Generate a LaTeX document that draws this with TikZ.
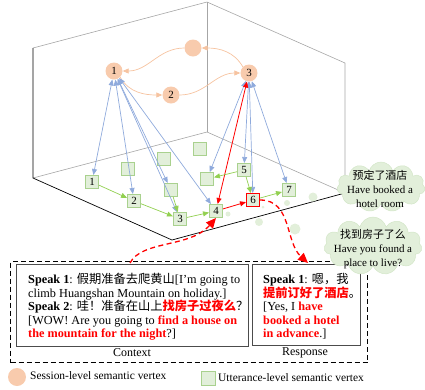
\documentclass[tikz,border=0pt]{standalone}
\usepackage{fontspec}
\setmainfont{Liberation Serif}
\newfontfamily\cjk{Noto Sans CJK SC}
\usetikzlibrary{arrows.meta,shapes.symbols}
\definecolor{sess}{HTML}{F8CBAD}
\definecolor{sessline}{HTML}{F6C3A0}
\definecolor{uttfill}{HTML}{E2EFDA}
\definecolor{uttdraw}{HTML}{A9D18E}
\definecolor{grarrow}{HTML}{92D050}
\definecolor{blarrow}{HTML}{8FAADC}
\definecolor{boxgray}{HTML}{A6A6A6}
\definecolor{cloudfill}{HTML}{E2EFDA}
\definecolor{clouddraw}{HTML}{D3E6C8}
\definecolor{myred}{HTML}{FF0000}
\newcommand{\redb}[1]{\textcolor{myred}{\bfseries #1}}
\begin{document}
\begin{tikzpicture}[x=1bp,y=1bp,
  sessnode/.style={circle,fill=sess,minimum size=17bp,inner sep=0pt,font=\fontsize{11}{12}\selectfont},
  uttnode/.style={rectangle,fill=uttfill,draw=uttdraw,line width=1bp,minimum size=13bp,inner sep=0pt,font=\fontsize{11}{12}\selectfont},
  sessarrow/.style={draw=sessline,line width=0.7bp,-{Triangle[width=5bp,length=6bp]}},
  bluearrow/.style={draw=blarrow,line width=0.7bp,{Triangle[width=5bp,length=6bp]}-{Triangle[width=5bp,length=6bp]}},
  greenarrow/.style={draw=grarrow,line width=0.7bp,-{Triangle[width=5bp,length=6bp]}},
  redarrow/.style={draw=myred,line width=0.8bp,-{Triangle[width=5bp,length=6bp]}},
  reddash/.style={draw=myred,line width=1.3bp,dash pattern=on 5bp off 3.5bp,-{Triangle[width=9bp,length=10bp]}},
  textline/.style={anchor=base west,inner sep=0pt,font=\fontsize{12.3}{13.5}\selectfont},
  cloudtext/.style={align=center,inner sep=0pt,font=\fontsize{11}{14}\selectfont},
  cloudshape/.style={cloud,cloud puffs=11,aspect=1.8,fill=cloudfill,draw=clouddraw,line width=0.5bp,inner sep=0pt},
  dot/.style={fill=cloudfill}
]
\useasboundingbox (0,0) rectangle (425,-390);

% 3D box
\draw[boxgray,line width=0.6bp] (33,-48) -- (207,-2) -- (345,-63) -- (345,-193);
\draw[boxgray,line width=0.6bp] (207,-2) -- (207,-132);
\draw[boxgray,line width=0.6bp] (33,-178) -- (207,-132) -- (345,-193);
\draw[black,line width=0.7bp] (33,-48) -- (33,-178) -- (172,-240) -- (345,-193);

% decorative dots
\fill[dot] (228,-214) circle (2.5);
\fill[dot] (259,-222) circle (4);
\fill[dot] (263,-207) circle (1.5);
\fill[dot] (287,-203) circle (3);
\fill[dot] (295,-229) circle (5.5);
\fill[dot] (313,-197) circle (4.5);

% session vertices
\node[sessnode] (s1) at (114,-71) {1};
\node[sessnode] (s2) at (171,-95) {2};
\node[sessnode] (s3) at (249,-73) {3};
\node[sessnode] (s0) at (193,-48) {};

\draw[sessarrow] (s0.west) to[out=180,in=0] (s1.east);
\draw[sessarrow] (s1.south east) to[out=-60,in=180] (s2.west);
\draw[sessarrow] (s2.east) to[out=0,in=180] (s3.west);
\draw[sessarrow] (s3.north west) to[out=120,in=0] (s0.east);

% utterance vertices
\node[uttnode] (ua) at (128,-169) {};
\node[uttnode] (ub) at (164,-159) {};
\node[uttnode] (uc) at (200,-149) {};
\node[uttnode] (ud) at (171,-190) {};
\node[uttnode] (ue) at (207,-179) {};
\node[uttnode] (u1) at (92,-182) {1};
\node[uttnode] (u2) at (134,-201) {2};
\node[uttnode] (u3) at (180,-219) {3};
\node[uttnode] (u4) at (216,-211) {4};
\node[uttnode] (u5) at (244,-170) {5};
\node[uttnode,draw=myred] (u6) at (253,-200) {6};
\node[uttnode] (u7) at (289,-190) {7};

% blue links
\foreach \t in {u1,u2,u3,ud,u4} \draw[bluearrow] (s1) -- (\t);
\foreach \t in {ue,u5,u6,u7} \draw[bluearrow] (s3) -- (\t);
\draw[draw=myred,line width=0.8bp,{Triangle[width=5bp,length=6bp]}-{Triangle[width=5bp,length=6bp]}] (s3) -- (u4);

% green links
\draw[greenarrow] (u1) -- (u2);
\draw[greenarrow] (u2) -- (u3);
\draw[greenarrow] (ud) -- (u3);
\draw[greenarrow] (u3) -- (u4);
\draw[greenarrow] (u5) -- (ue);
\draw[greenarrow] (u5) -- (u6);
\draw[greenarrow] (u6) -- (u7);
\draw[redarrow] (u4) -- (u6);

% dashed frame and boxes
\node[draw=black,line width=1.2bp,dash pattern=on 5bp off 3bp,minimum width=357bp,minimum height=101bp,inner sep=0pt,anchor=north west] (frame) at (10,-261) {};
\node[draw=black!70,line width=1bp,minimum width=232bp,minimum height=82bp,inner sep=0pt,anchor=north west] (ctx) at (16,-264) {};
\node[draw=black!70,line width=1bp,minimum width=108bp,minimum height=81bp,inner sep=0pt,anchor=north west] (rsp) at (252,-264) {};

% context text
\node[textline] (c1) at (28,-283.5) {\textbf{Speak 1}: {\cjk 假期准备去爬黄山}[I’m going to};
\node[textline] (c2) at (28,-297) {climb Huangshan Mountain on holiday.]};
\node[textline] (c3) at (28,-310.5) {\textbf{Speak 2}: {\cjk 哇！准备在山上}\redb{{\cjk 找房子过夜么}}{\cjk ？}};
\node[textline] (c4) at (28,-324) {[WOW! Are you going to \redb{find a house on}};
\node[textline] (c5) at (28,-337.5) {\redb{the mountain for the night}?]};

% response text
\node[textline] (r1) at (263,-283.5) {\textbf{Speak 1}: {\cjk 嗯，我}};
\node[textline] (r2) at (263,-297) {\redb{{\cjk 提前订好了酒店}}{\cjk 。}};
\node[textline] (r3) at (263,-310.5) {[Yes, I \redb{have}};
\node[textline] (r4) at (263,-324) {\redb{booked a hotel}};
\node[textline] (r5) at (263,-337.5) {\redb{in advance}.]};

\node[font=\fontsize{12}{13}\selectfont,inner sep=0pt] (ctxlab) at (132,-353) {Context};
\node[font=\fontsize{12}{13}\selectfont,inner sep=0pt] (rsplab) at (305,-353) {Response};

% red dashed arrows
\coordinate (cstart) at (130,-263);
\coordinate (rend) at (308,-263);
\draw[reddash] (cstart) .. controls (142,-240) and (190,-248) .. (u4.south);
\draw[reddash] (u6.east) .. controls (292,-200) and (285,-242) .. (rend);

% clouds
\node[cloudshape,minimum width=88bp,minimum height=50bp] (cl1) at (381,-187) {};
\node[cloudtext] (cl1t) at (380,-189) {{\cjk 预定了酒店}\\Have booked a\\hotel room};
\node[cloudshape,minimum width=98bp,minimum height=58bp] (cl2) at (373,-246) {};
\node[cloudtext] (cl2t) at (373,-249) {{\cjk 找到房子了么}\\Have you found a\\place to live?};

% legend
\node[circle,fill=sess,minimum size=18bp,inner sep=0pt] (leg1) at (17,-377) {};
\node[anchor=west,inner sep=0pt,font=\fontsize{11.5}{13}\selectfont] (leg1t) at (30,-376) {Session-level semantic vertex};
\node[rectangle,fill=uttfill,draw=uttdraw,line width=1bp,minimum size=14bp,inner sep=0pt] (leg2) at (208,-378) {};
\node[anchor=west,inner sep=0pt,font=\fontsize{11.5}{13}\selectfont] (leg2t) at (218,-378) {Utterance-level semantic vertex};
\end{tikzpicture}
\end{document}
